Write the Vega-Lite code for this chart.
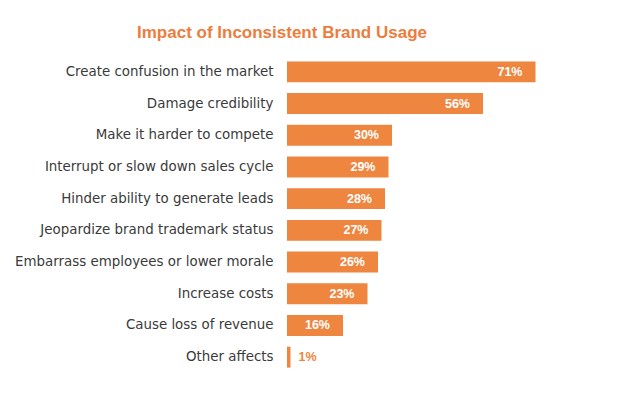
{
  "$schema": "https://vega.github.io/schema/vega-lite/v6.json",
  "width": 280,
  "height": 317,
  "autosize": "none",
  "padding": {"left": 287, "top": 56, "right": 54, "bottom": 20},
  "background": "white",
  "config": {"view": {"stroke": null}},
  "title": {
    "text": "Impact of Inconsistent Brand Usage",
    "anchor": "start",
    "frame": "group",
    "dx": -150,
    "offset": 14,
    "font": "Liberation Sans",
    "fontSize": 17,
    "fontWeight": "bold",
    "color": "#EC7D3C"
  },
  "data": {
    "values": [
      {"effect": "Create confusion in the market", "pct": 71},
      {"effect": "Damage credibility", "pct": 56},
      {"effect": "Make it harder to compete", "pct": 30},
      {"effect": "Interrupt or slow down sales cycle", "pct": 29},
      {"effect": "Hinder ability to generate leads", "pct": 28},
      {"effect": "Jeopardize brand trademark status", "pct": 27},
      {"effect": "Embarrass employees or lower morale", "pct": 26},
      {"effect": "Increase costs", "pct": 23},
      {"effect": "Cause loss of revenue", "pct": 16},
      {"effect": "Other affects", "pct": 1}
    ]
  },
  "transform": [{"calculate": "datum.pct + '%'", "as": "label"}],
  "encoding": {
    "y": {
      "field": "effect",
      "type": "nominal",
      "sort": null,
      "scale": {"paddingInner": 0.34, "paddingOuter": 0.17},
      "axis": {
        "title": null,
        "domain": false,
        "ticks": false,
        "labelPadding": 14,
        "labelFont": "DejaVu Sans",
        "labelFontSize": 13.4,
        "labelColor": "#3a3a3a",
        "labelLimit": 300
      }
    },
    "x": {
      "field": "pct",
      "type": "quantitative",
      "scale": {"domain": [0, 80]},
      "axis": null
    }
  },
  "layer": [
    {"mark": {"type": "bar", "color": "#EE863F"}},
    {
      "transform": [{"filter": "datum.pct >= 10"}],
      "mark": {"type": "text", "align": "right", "dx": -13, "color": "white", "font": "Liberation Sans", "fontSize": 12.5, "fontWeight": "bold"},
      "encoding": {"text": {"field": "label", "type": "nominal"}}
    },
    {
      "transform": [{"filter": "datum.pct < 10"}],
      "mark": {"type": "text", "align": "left", "dx": 8, "color": "#EE863F", "font": "Liberation Sans", "fontSize": 12.5, "fontWeight": "bold"},
      "encoding": {"text": {"field": "label", "type": "nominal"}}
    }
  ]
}
